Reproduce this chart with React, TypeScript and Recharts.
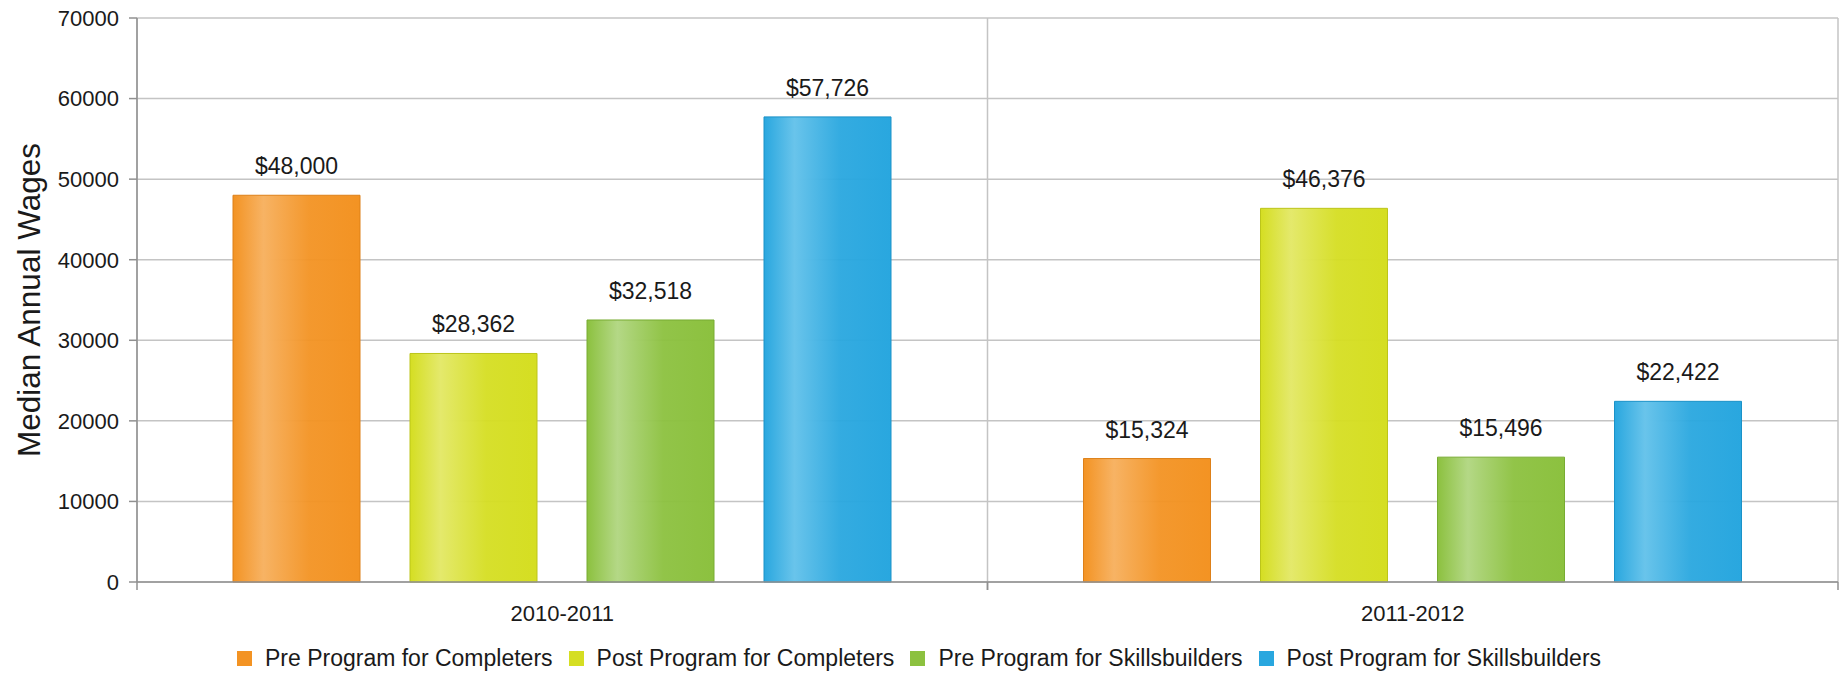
import React from "react";
import {
  BarChart,
  Bar,
  XAxis,
  YAxis,
  CartesianGrid,
  Legend,
  LabelList,
  Label,
} from "recharts";

const periods = ["2010-2011", "2011-2012"];
const preCompleters = [48000, 15324];
const postCompleters = [28362, 46376];
const preSkills = [32518, 15496];
const postSkills = [57726, 22422];
const yTicks = [0, 10000, 20000, 30000, 40000, 50000, 60000, 70000];

const font = "'Liberation Sans', Arial, Helvetica, sans-serif";
const textColor = "#1a1a1a";
const axisColor = "#909090";
const gridColor = "#c4c4c4";

const series = [
  { key: "preCompleters", name: "Pre Program for Completers", base: "#F39323", light: "#F7B364", edge: "#DD8019" },
  { key: "postCompleters", name: "Post Program for Completers", base: "#D5DE22", light: "#E4E96C", edge: "#BCC51A" },
  { key: "preSkills", name: "Pre Program for Skillsbuilders", base: "#8CC13F", light: "#B4D886", edge: "#78AC32" },
  { key: "postSkills", name: "Post Program for Skillsbuilders", base: "#29A7DF", light: "#69C4EB", edge: "#1B92C8" },
];

const data = periods.map((period, i) => ({
  period,
  preCompleters: preCompleters[i],
  postCompleters: postCompleters[i],
  preSkills: preSkills[i],
  postSkills: postSkills[i],
}));

const money = (v: any) => "$" + Number(v).toLocaleString("en-US");

const renderLegend = () => (
  <div
    style={{
      display: "flex",
      justifyContent: "center",
      alignItems: "center",
      height: 30,
      fontFamily: font,
      fontSize: 23,
      color: textColor,
      whiteSpace: "nowrap",
    }}
  >
    {series.map((s, i) => (
      <div
        key={s.key}
        style={{ display: "flex", alignItems: "center", marginLeft: i ? 16 : 0 }}
      >
        <span
          style={{ display: "inline-block", width: 15, height: 15, background: s.base, marginRight: 13 }}
        />
        <span>{s.name}</span>
      </div>
    ))}
  </div>
);

// category label plus the small tick marks at both edges of the band
const PeriodTick = (props: any) => {
  const { x, y, payload } = props;
  const half = payload && payload.offset ? payload.offset : 0;
  const axisY = y - 23;
  return (
    <g>
      <line x1={x - half} x2={x - half} y1={axisY} y2={axisY + 8} stroke={axisColor} strokeWidth={1.5} />
      <line x1={x + half} x2={x + half} y1={axisY} y2={axisY + 8} stroke={axisColor} strokeWidth={1.5} />
      <text x={x} y={y} dy="0.71em" textAnchor="middle" fill={textColor} fontSize={22} fontFamily={font}>
        {payload.value}
      </text>
    </g>
  );
};

const YTitle = (props: any) => {
  const vb = props.viewBox || {};
  const cx = 29;
  const cy = vb.height ? vb.y + vb.height / 2 : 300;
  return (
    <text
      x={cx}
      y={cy}
      transform={`rotate(-90, ${cx}, ${cy})`}
      textAnchor="middle"
      dominantBaseline="central"
      fontFamily={font}
      fontSize={31.5}
      fill={textColor}
    >
      Median Annual Wages
    </text>
  );
};

export default function App() {
  return (
    <div style={{ width: 1845, height: 673, background: "#fff" }}>
      <style>{"body{margin:0}"}</style>
      <BarChart
        width={1845}
        height={673}
        data={data}
        margin={{ top: 18, right: 7, left: 0, bottom: 0 }}
        barCategoryGap={96}
        barGap={50}
      >
        <defs>
          {series.map((s) => (
            <linearGradient key={s.key} id={"grad-" + s.key} x1="0" y1="0" x2="1" y2="0">
              <stop offset="0%" stopColor={s.base} />
              <stop offset="24%" stopColor={s.light} />
              <stop offset="60%" stopColor={s.base} stopOpacity={0.95} />
              <stop offset="100%" stopColor={s.base} />
            </linearGradient>
          ))}
        </defs>
        <CartesianGrid
          stroke={gridColor}
          strokeWidth={1.5}
          verticalCoordinatesGenerator={({ offset }: any) => [
            offset.left,
            offset.left + offset.width / 2,
            offset.left + offset.width,
          ]}
        />
        <XAxis
          dataKey="period"
          tickLine={false}
          tickSize={0}
          tickMargin={23}
          height={61}
          interval={0}
          axisLine={{ stroke: axisColor, strokeWidth: 1.5 }}
          tick={<PeriodTick />}
        />
        <YAxis
          width={137}
          domain={[0, 70000]}
          ticks={yTicks}
          interval={0}
          tickSize={8}
          tickMargin={10}
          axisLine={{ stroke: axisColor, strokeWidth: 1.5 }}
          tickLine={{ stroke: axisColor, strokeWidth: 1.5 }}
          tick={{ fill: textColor, fontSize: 22, fontFamily: font }}
        >
          <Label content={<YTitle />} />
        </YAxis>
        <Legend
          verticalAlign="bottom"
          content={renderLegend}
          wrapperStyle={{ left: 0, width: 1838, height: 30 }}
        />
        {series.map((s) => (
          <Bar
            key={s.key}
            dataKey={s.key}
            name={s.name}
            fill={`url(#grad-${s.key})`}
            stroke={s.edge}
            strokeWidth={1}
            isAnimationActive={false}
          >
            <LabelList
              dataKey={s.key}
              position="top"
              offset={21}
              formatter={money}
              fill={textColor}
              fontSize={23}
              fontFamily={font}
            />
          </Bar>
        ))}
      </BarChart>
    </div>
  );
}
